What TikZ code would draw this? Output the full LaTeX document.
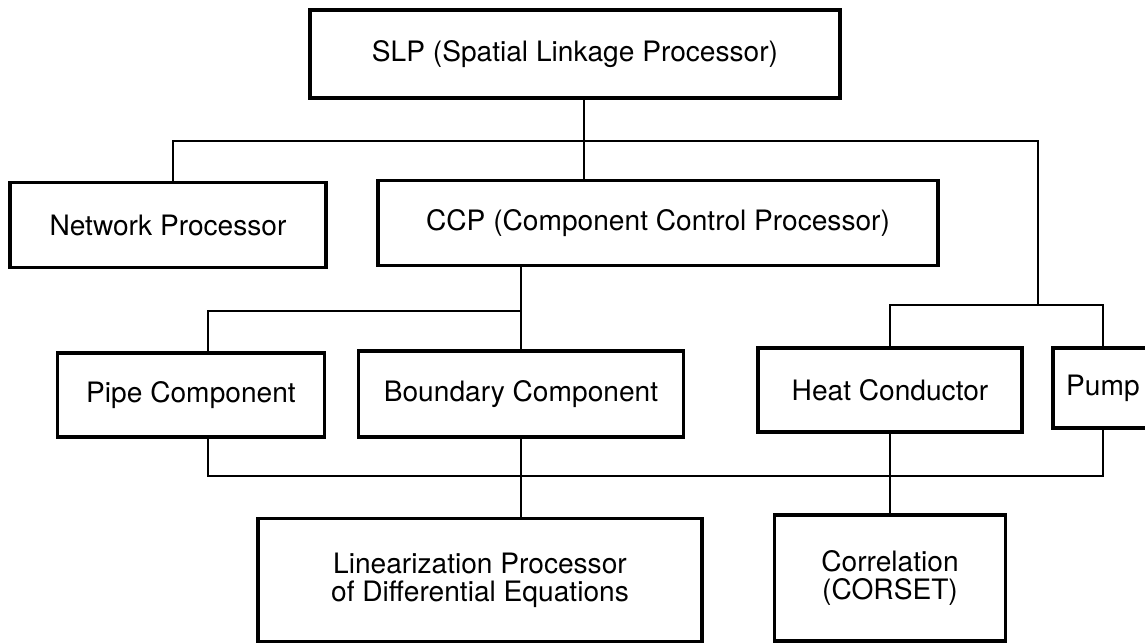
\documentclass[tikz,border=0pt]{standalone}
\usepackage{fontspec}
\setmainfont{TeX Gyre Heros}

\tikzset{
  box/.style={draw, line width=1.8pt, inner sep=0pt, align=center,
    font=\fontsize{16}{15.8}\selectfont},
  link/.style={line width=0.8pt}
}

\begin{document}
\begin{tikzpicture}[x=0.02cm, y=-0.02cm]
\useasboundingbox (0,0) rectangle (1145,643);

\node[box, minimum width=10.6cm, minimum height=1.76cm] (slp) at (575,54) {SLP (Spatial Linkage Processor)};

\node[box, minimum width=6.32cm, minimum height=1.7cm] (net) at (168,225) {Network Processor};
\node[box, minimum width=11.2cm, minimum height=1.7cm] (ccp) at (658,223) {CCP (Component Control Processor)};

\node[box, minimum width=5.34cm, minimum height=1.68cm] (pipe) at (191,395) {Pipe Component};
\node[box, minimum width=6.5cm, minimum height=1.72cm] (bnd) at (521,394) {Boundary Component};
\node[box, minimum width=5.28cm, minimum height=1.68cm] (heat) at (890,390) {Heat Conductor};
\node[box, minimum width=2cm, minimum height=1.6cm] (pump) at (1103,388) {Pump};

\node[box, minimum width=8.88cm, minimum height=2.46cm] (lin) at (480,580) {Linearization Processor\\of Differential Equations};
\node[box, minimum width=4.62cm, minimum height=2.52cm] (cor) at (890,578) {Correlation\\(CORSET)};

% junctions
\coordinate (jm) at (584,141);
\coordinate (jl) at (173,141);
\coordinate (jr) at (1038,141);
\coordinate (jrb) at (1038,305);
\coordinate (jp) at (208,311);
\coordinate (jq) at (208,476);

\draw[link] (slp.south -| jm) -- (ccp.north -| jm);
\draw[link] (net.north -| jl) -- (jl) -- (jr) -- (jrb);
\draw[link] (heat.north) |- (jrb) -| (pump.north);

\draw[link] (ccp.south -| bnd.north) -- (bnd.north);
\draw[link] (pipe.north -| jp) -- (jp) -- (jp -| bnd.north);

\draw[link] (pipe.south -| jq) -- (jq) -| (pump.south);
\draw[link] (bnd.south) -- (lin.north -| bnd.south);
\draw[link] (heat.south) -- (cor.north);

\end{tikzpicture}
\end{document}
